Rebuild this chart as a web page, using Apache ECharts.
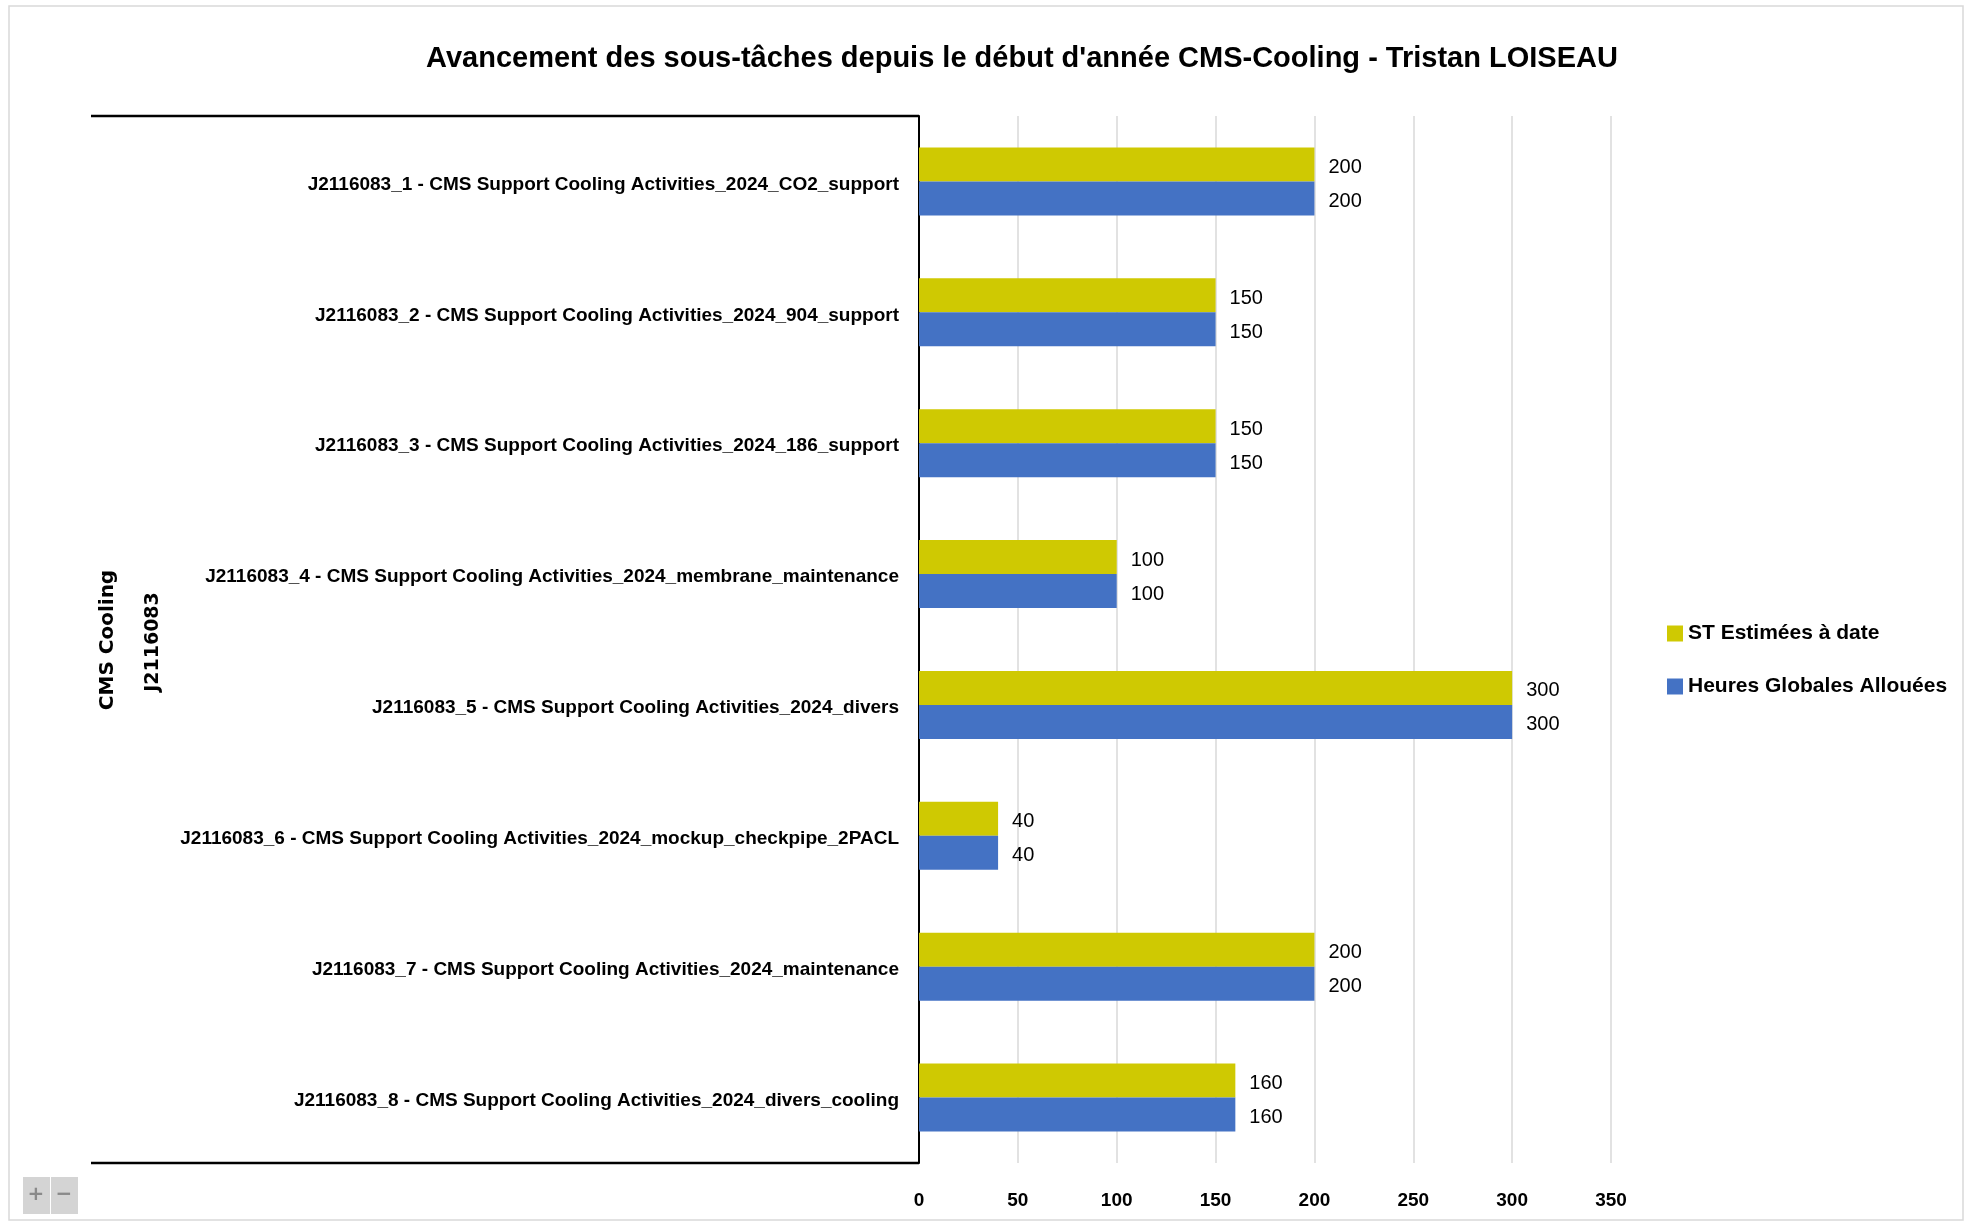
<!DOCTYPE html>
<html>
<head>
<meta charset="utf-8">
<script src="https://cdn.jsdelivr.net/npm/echarts@6/dist/echarts.min.js"></script>
<style>
  html, body { margin: 0; padding: 0; background: #fff; }
  #chart { width: 1973px; height: 1226px; }
</style>
</head>
<body>
<div id="chart"></div>
<script>
const categories = [
  'J2116083_1 - CMS Support Cooling Activities_2024_CO2_support',
  'J2116083_2 - CMS Support Cooling Activities_2024_904_support',
  'J2116083_3 - CMS Support Cooling Activities_2024_186_support',
  'J2116083_4 - CMS Support Cooling Activities_2024_membrane_maintenance',
  'J2116083_5 - CMS Support Cooling Activities_2024_divers',
  'J2116083_6 - CMS Support Cooling Activities_2024_mockup_checkpipe_2PACL',
  'J2116083_7 - CMS Support Cooling Activities_2024_maintenance',
  'J2116083_8 - CMS Support Cooling Activities_2024_divers_cooling'
];
const stEstimees = [200, 150, 150, 100, 300, 40, 200, 160];
const heuresAllouees = [200, 150, 150, 100, 300, 40, 200, 160];
const seriesNames = ['ST Estimées à date', 'Heures Globales Allouées'];
const groupLabels = ['CMS Cooling', 'J2116083'];

const font = '"Liberation Sans", Arial, sans-serif';

const myChart = echarts.init(document.getElementById('chart'));

// zone du graphique en pixels
const gLeft = 919, gRight = 1611, gTop = 116, gBottom = 1163;

const barLabel = {
  show: true,
  position: 'right',
  distance: 14,
  offset: [0, 3],
  fontFamily: font,
  fontSize: 20,
  color: '#000'
};

const option = {
  animation: false,
  backgroundColor: '#fff',
  color: ['#CFC902', '#4472C4'],
  title: {
    text: 'Avancement des sous-tâches depuis le début d\'année CMS-Cooling - Tristan LOISEAU',
    left: 1017,
    textAlign: 'center',
    top: 39,
    textStyle: { fontFamily: font, fontWeight: 'bold', fontSize: 29, color: '#000' }
  },
  legend: {
    orient: 'vertical',
    left: 1662,
    top: 618,
    icon: 'rect',
    itemWidth: 16,
    itemHeight: 16,
    itemGap: 32,
    data: seriesNames,
    textStyle: { fontFamily: font, fontWeight: 'bold', fontSize: 21, color: '#000' }
  },
  grid: {
    left: gLeft,
    right: 1973 - gRight,
    top: gTop,
    bottom: 1226 - gBottom,
    containLabel: false
  },
  xAxis: {
    type: 'value',
    min: 0,
    max: 350,
    interval: 50,
    axisLine: { show: false },
    axisTick: { show: false },
    splitLine: { lineStyle: { color: '#D9D9D9', width: 1.5 } },
    axisLabel: { margin: 28, fontFamily: font, fontWeight: 'bold', fontSize: 19, color: '#000' }
  },
  yAxis: {
    type: 'category',
    inverse: true,
    data: categories,
    axisLine: { lineStyle: { color: '#000', width: 2 } },
    axisTick: { show: false },
    axisLabel: {
      margin: 20,
      formatter: v => '{c|' + v + '}',
      rich: {
        c: { padding: [6, 0, 0, 0], fontFamily: font, fontWeight: 'bold', fontSize: 19, color: '#000' }
      }
    }
  },
  series: [
    {
      name: seriesNames[0],
      type: 'bar',
      data: stEstimees,
      barGap: '0%',
      barCategoryGap: '48%',
      label: barLabel
    },
    {
      name: seriesNames[1],
      type: 'bar',
      data: heuresAllouees,
      barGap: '0%',
      barCategoryGap: '48%',
      label: barLabel
    }
  ],
  graphic: [
    // cadre extérieur
    { type: 'rect', shape: { x: 9, y: 6, width: 1954, height: 1214 }, style: { fill: 'none', stroke: '#D9D9D9', lineWidth: 1.5 }, silent: true },
    // lignes du cadre des étiquettes multi-niveaux
    { type: 'line', shape: { x1: 91, y1: gTop, x2: gLeft, y2: gTop }, style: { stroke: '#000', lineWidth: 2.5 }, silent: true },
    { type: 'line', shape: { x1: 91, y1: gBottom, x2: gLeft, y2: gBottom }, style: { stroke: '#000', lineWidth: 2.5 }, silent: true },
    {
      type: 'text', x: 108, y: 640, rotation: Math.PI / 2,
      style: { text: groupLabels[0], font: 'bold 20px "DejaVu Sans", sans-serif', fill: '#000', align: 'center', verticalAlign: 'middle' }
    },
    {
      type: 'text', x: 153, y: 642, rotation: Math.PI / 2,
      style: { text: groupLabels[1], font: 'bold 19px "DejaVu Sans", sans-serif', fill: '#000', align: 'center', verticalAlign: 'middle' }
    },
    // boutons de zoom
    { type: 'rect', shape: { x: 23, y: 1177, width: 27, height: 37 }, style: { fill: '#D4D4D4' }, silent: true },
    { type: 'rect', shape: { x: 51, y: 1177, width: 27, height: 37 }, style: { fill: '#D4D4D4' }, silent: true },
    { type: 'text', x: 36, y: 1195, style: { text: '+', font: 'bold 20px "DejaVu Sans"', fill: '#8a8a8a', align: 'center', verticalAlign: 'middle' } },
    { type: 'text', x: 64, y: 1195, style: { text: '−', font: 'bold 20px "DejaVu Sans"', fill: '#8a8a8a', align: 'center', verticalAlign: 'middle' } }
  ]
};

myChart.setOption(option);

window.addEventListener('resize', () => {
  myChart.resize();
});
</script>
</body>
</html>
